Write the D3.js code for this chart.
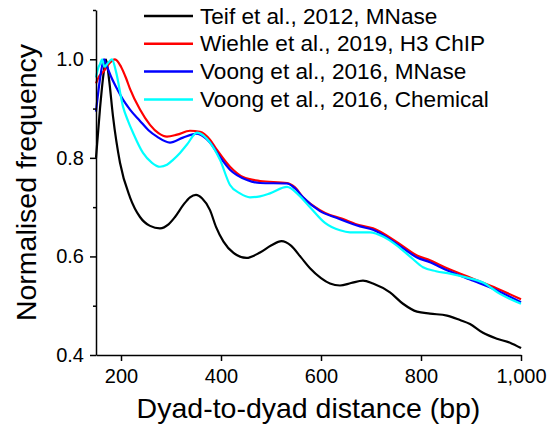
<!DOCTYPE html>
<html>
<head>
<meta charset="utf-8">
<script src="https://cdn.jsdelivr.net/npm/d3@7"></script>
<style>
  body { margin: 0; background: #fff; }
  text { font-family: "Liberation Sans", Arial, sans-serif; fill: #000; }
</style>
</head>
<body>
<div id="chart-area"></div>
<script>
// values
const teifX = [150, 158, 165, 170, 176, 184, 198, 218, 238, 258, 278, 295, 308, 325, 338, 350, 362, 378, 390, 405, 425, 451, 478, 500, 521, 540, 560, 578, 600, 618, 638, 660, 684, 704, 738, 764, 792, 818, 852, 878, 898, 924, 952, 978, 1000];
const teifY = [0.80, 0.90, 0.97, 1.0, 0.96, 0.884, 0.79, 0.72, 0.68, 0.662, 0.657, 0.665, 0.68, 0.705, 0.72, 0.725, 0.718, 0.694, 0.66, 0.63, 0.607, 0.597, 0.608, 0.622, 0.631, 0.622, 0.598, 0.576, 0.556, 0.545, 0.541, 0.546, 0.551, 0.545, 0.527, 0.504, 0.488, 0.484, 0.480, 0.471, 0.463, 0.445, 0.433, 0.425, 0.414];

const wiehleX = [150, 156, 165, 175, 188, 200, 210, 218, 238, 258, 275, 292, 312, 338, 358, 378, 392, 418, 444, 478, 532, 548, 564, 598, 618, 638, 678, 704, 752, 792, 818, 852, 898, 952, 1000];
const wiehleY = [0.951, 0.965, 0.975, 0.99, 1.0, 0.985, 0.962, 0.94, 0.898, 0.867, 0.85, 0.843, 0.847, 0.855, 0.853, 0.837, 0.816, 0.782, 0.761, 0.753, 0.749, 0.74, 0.72, 0.694, 0.684, 0.678, 0.663, 0.657, 0.629, 0.602, 0.592, 0.576, 0.557, 0.535, 0.513];

const voongMX = [150, 158, 166, 172, 180, 192, 204, 218, 238, 255, 272, 298, 324, 352, 365, 378, 395, 418, 452, 478, 532, 548, 564, 598, 632, 678, 704, 752, 792, 818, 852, 898, 952, 1000];
const voongMY = [0.894, 0.96, 1.0, 0.985, 0.965, 0.94, 0.918, 0.898, 0.875, 0.856, 0.843, 0.831, 0.841, 0.849, 0.843, 0.831, 0.806, 0.776, 0.755, 0.749, 0.748, 0.738, 0.72, 0.692, 0.678, 0.661, 0.654, 0.625, 0.598, 0.588, 0.572, 0.553, 0.531, 0.507];

const voongCX = [150, 155, 158, 162, 167, 172, 182, 190, 204, 214, 224, 244, 262, 278, 292, 304, 318, 332, 352, 365, 378, 398, 418, 438, 458, 478, 498, 532, 555, 578, 608, 638, 658, 698, 725, 752, 780, 804, 830, 858, 892, 924, 958, 1000];
const voongCY = [0.963, 0.984, 0.99, 1.0, 0.985, 0.99, 1.0, 0.975, 0.904, 0.875, 0.851, 0.81, 0.79, 0.782, 0.786, 0.796, 0.81, 0.827, 0.851, 0.845, 0.831, 0.796, 0.745, 0.728, 0.72, 0.722, 0.728, 0.741, 0.725, 0.70, 0.668, 0.653, 0.649, 0.649, 0.64, 0.622, 0.598, 0.578, 0.57, 0.565, 0.557, 0.547, 0.524, 0.504];

const seriesNames = ["Teif et al., 2012, MNase", "Wiehle et al., 2019, H3 ChIP", "Voong et al., 2016, MNase", "Voong et al., 2016, Chemical"];
const seriesColors = ["#000000", "#ff0000", "#0000ff", "#00ffff"];
const xTicks = [200, 400, 600, 800, 1000];
const yTicks = [0.4, 0.6, 0.8, 1.0];
const yMinorTicks = [0.5, 0.7, 0.9, 1.1];

const MARGIN = { LEFT: 96, RIGHT: 29, TOP: 10, BOTTOM: 75 };
const WIDTH = 550 - MARGIN.LEFT - MARGIN.RIGHT;
const HEIGHT = 430 - MARGIN.TOP - MARGIN.BOTTOM;

const svg = d3.select("#chart-area").append("svg")
  .attr("width", 550)
  .attr("height", 430);

const g = svg.append("g")
  .attr("transform", `translate(${MARGIN.LEFT}, ${MARGIN.TOP})`);

const x = d3.scaleLinear().domain([150, 1000]).range([0, WIDTH]);
const y = d3.scaleLinear().domain([0.4, 1.1]).range([HEIGHT, 0]);

// curves
const series = [
  d3.zip(teifX, teifY),
  d3.zip(wiehleX, wiehleY),
  d3.zip(voongMX, voongMY),
  d3.zip(voongCX, voongCY)
];

const line = d3.line()
  .x(d => x(d[0]))
  .y(d => y(d[1]))
  .curve(d3.curveMonotoneX);

g.selectAll("path.series")
  .data(series)
  .enter().append("path")
  .attr("class", "series")
  .attr("d", line)
  .attr("fill", "none")
  .attr("stroke", (d, i) => seriesColors[i])
  .attr("stroke-width", 2.2)
  .attr("stroke-linejoin", "round");

// axes
const xAxis = g.append("g")
  .attr("transform", `translate(0, ${HEIGHT})`)
  .call(d3.axisBottom(x).tickValues(xTicks).tickFormat(d3.format(",")).tickSize(6).tickSizeOuter(0));

const yAxis = g.append("g")
  .call(d3.axisLeft(y).tickValues(yTicks).tickFormat(d3.format(".1f")).tickSize(6).tickSizeOuter(0));

g.append("g")
  .call(d3.axisLeft(y).tickValues(yMinorTicks).tickFormat("").tickSize(3).tickSizeOuter(0))
  .select(".domain").remove();

g.selectAll(".domain, .tick line")
  .attr("stroke", "#000")
  .attr("stroke-width", 1.5);

xAxis.selectAll("text")
  .attr("font-size", 20)
  .attr("font-family", "Liberation Sans, Arial, sans-serif")
  .attr("dy", "0.78em")
  .attr("y", 12);

yAxis.selectAll("text")
  .attr("font-size", 20)
  .attr("font-family", "Liberation Sans, Arial, sans-serif")
  .attr("x", -12);

// axis titles
svg.append("text")
  .attr("x", MARGIN.LEFT + WIDTH / 2)
  .attr("y", 418)
  .attr("text-anchor", "middle")
  .attr("font-size", 28.5)
  .text("Dyad-to-dyad distance (bp)");

svg.append("text")
  .attr("transform", `translate(36, ${MARGIN.TOP + HEIGHT / 2}) rotate(-90)`)
  .attr("text-anchor", "middle")
  .attr("font-size", 28.5)
  .text("Normalised frequency");

// legend
const legend = svg.append("g");
const rows = legend.selectAll("g")
  .data(seriesNames)
  .enter().append("g")
  .attr("transform", (d, i) => `translate(144, ${16 + i * 27.8})`);

rows.append("line")
  .attr("x1", 0).attr("x2", 49)
  .attr("stroke", (d, i) => seriesColors[i])
  .attr("stroke-width", 2.5);

rows.append("text")
  .attr("x", 56)
  .attr("y", 7.5)
  .attr("font-size", 22.6)
  .text(d => d);
</script>
</body>
</html>
